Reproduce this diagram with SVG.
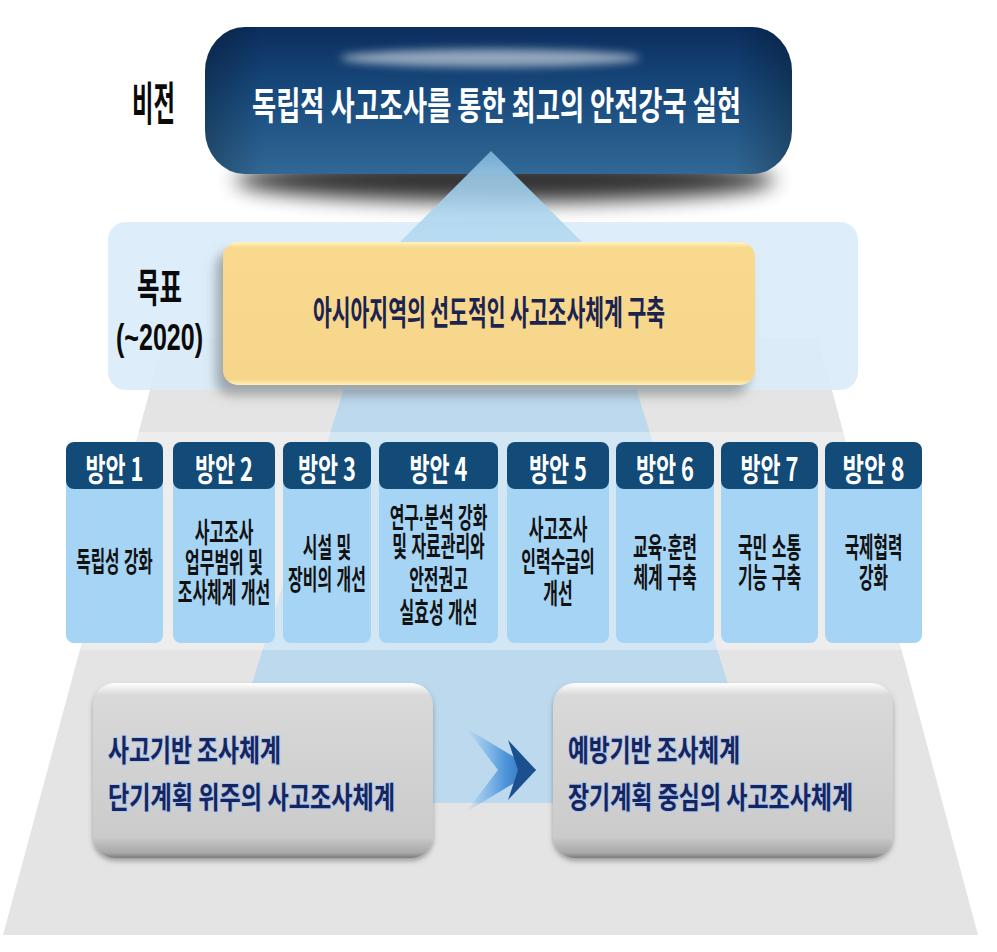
<svg xmlns="http://www.w3.org/2000/svg" width="997" height="952" viewBox="0 0 997 952">
<defs>
<style>
text{font-family:"Noto Sans CJK KR","Noto Sans",sans-serif;font-weight:700}
.lbl{fill:#0a0a0a;font-family:"Liberation Sans","Noto Sans CJK KR",sans-serif}
.hd{fill:#ffffff;font-size:32px}
.bd{fill:#111111;font-size:28px;font-family:"Liberation Sans","Noto Sans CJK KR",sans-serif;text-anchor:middle}
.hdr{fill:#124a78}
.body{fill:#a6d4f4}
.bt{fill:#18245e;font-size:30px;stroke:#a9c9ee;stroke-width:2.2px;paint-order:stroke}
</style>
<linearGradient id="pillG" x1="0" y1="0" x2="0" y2="1">
<stop offset="0" stop-color="#0b2e5e"/>
<stop offset="0.45" stop-color="#184a7d"/>
<stop offset="1" stop-color="#316894"/>
</linearGradient>
<linearGradient id="pillSide" x1="0" y1="0" x2="1" y2="0">
<stop offset="0" stop-color="#000" stop-opacity="0.25"/>
<stop offset="0.1" stop-color="#000" stop-opacity="0"/>
<stop offset="0.9" stop-color="#000" stop-opacity="0"/>
<stop offset="1" stop-color="#000" stop-opacity="0.25"/>
</linearGradient>
<linearGradient id="triG" x1="0" y1="0" x2="0" y2="1">
<stop offset="0" stop-color="#7fb2d8"/>
<stop offset="0.25" stop-color="#9ccbe9"/>
<stop offset="1" stop-color="#bfe0f4"/>
</linearGradient>
<linearGradient id="yelG" x1="0" y1="0" x2="0" y2="1">
<stop offset="0" stop-color="#fff3c4"/>
<stop offset="0.04" stop-color="#f8d98e"/>
<stop offset="0.96" stop-color="#f6d68a"/>
<stop offset="1" stop-color="#fff0b8"/>
</linearGradient>
<linearGradient id="boxG" x1="0" y1="0" x2="0" y2="1">
<stop offset="0" stop-color="#ffffff"/>
<stop offset="0.07" stop-color="#d9d9d9"/>
<stop offset="0.88" stop-color="#cbcbcb"/>
<stop offset="0.97" stop-color="#a8a8a8"/>
<stop offset="1" stop-color="#7c7c7c"/>
</linearGradient>
<linearGradient id="arrG" x1="0" y1="0" x2="1" y2="0">
<stop offset="0" stop-color="#5da8ea" stop-opacity="0"/>
<stop offset="0.55" stop-color="#3d8ad8" stop-opacity="0.85"/>
<stop offset="1" stop-color="#1d5fa8"/>
</linearGradient>
<filter id="blur10" x="-30%" y="-100%" width="160%" height="300%"><feGaussianBlur stdDeviation="10"/></filter>
<filter id="blur4" x="-30%" y="-200%" width="160%" height="500%"><feGaussianBlur stdDeviation="4"/></filter>
<filter id="ysh" x="-10%" y="-10%" width="120%" height="130%"><feDropShadow dx="-7" dy="10" stdDeviation="6" flood-color="#6a6a6a" flood-opacity="0.55"/></filter>
<filter id="bsh" x="-10%" y="-10%" width="120%" height="130%"><feDropShadow dx="0" dy="3" stdDeviation="2.5" flood-color="#555" flood-opacity="0.5"/></filter>
</defs>

<rect width="997" height="952" fill="#ffffff"/>

<g id="background">
<polygon points="164,338 818,338 978,935 3,935" fill="#e4e4e4"/>
<polygon points="345,385 635,385 765,803 215,803" fill="#bcd9ee"/>
<rect x="108" y="222" width="750" height="168" rx="18" fill="#d9ecfa" opacity="0.9"/>
<rect x="60" y="432" width="870" height="218" fill="#ffffff" opacity="0.35"/>
</g>

<g id="vision">
<ellipse cx="505" cy="180" rx="270" ry="22" fill="#000" opacity="0.8" filter="url(#blur10)"/>
<rect x="205" y="27" width="587" height="147" rx="40" ry="44" fill="url(#pillG)"/>
<rect x="205" y="27" width="587" height="147" rx="40" ry="44" fill="url(#pillSide)"/>
<ellipse cx="490" cy="58" rx="150" ry="9" fill="#ffffff" opacity="0.55" filter="url(#blur4)"/>
<polygon points="491,151 380,262 602,262" fill="url(#triG)" opacity="0.9"/>
<text x="252" y="119" font-size="38" fill="#ffffff" textLength="489" lengthAdjust="spacingAndGlyphs">독립적 사고조사를 통한 최고의 안전강국 실현</text>
<text class="lbl" x="132" y="120" font-size="46" textLength="43" lengthAdjust="spacingAndGlyphs">비전</text>
</g>

<g id="goal">
<rect x="223" y="242" width="532" height="143" rx="15" fill="url(#yelG)" filter="url(#ysh)"/>
<text x="313" y="325" font-size="34" fill="#1b2350" textLength="352" lengthAdjust="spacingAndGlyphs">아시아지역의 선도적인 사고조사체계 구축</text>
<text class="lbl" x="137" y="302" font-size="40" textLength="45" lengthAdjust="spacingAndGlyphs">목표</text>
<text class="lbl" x="116" y="350" font-size="36" textLength="87" lengthAdjust="spacingAndGlyphs">(~2020)</text>
</g>

<g id="plan1">
<rect class="body" x="66" y="470" width="97" height="173" rx="8"/>
<rect class="hdr" x="66" y="442" width="97" height="47" rx="8"/>
<text class="hd" x="114.5" y="481" text-anchor="middle" textLength="58" lengthAdjust="spacingAndGlyphs">방안 1</text>
<text class="bd" transform="translate(114.5 0) scale(0.56 1)"><tspan x="0" y="572">독립성 강화</tspan></text>
</g>
<g id="plan2">
<rect class="body" x="173" y="470" width="102" height="173" rx="8"/>
<rect class="hdr" x="173" y="442" width="102" height="47" rx="8"/>
<text class="hd" x="224" y="481" text-anchor="middle" textLength="58" lengthAdjust="spacingAndGlyphs">방안 2</text>
<text class="bd" transform="translate(224 0) scale(0.57 1)"><tspan x="0" y="543">사고조사</tspan><tspan x="0" y="573">업무범위 및</tspan><tspan x="0" y="603">조사체계 개선</tspan></text>
</g>
<g id="plan3">
<rect class="body" x="283" y="470" width="88" height="173" rx="8"/>
<rect class="hdr" x="283" y="442" width="88" height="47" rx="8"/>
<text class="hd" x="327" y="481" text-anchor="middle" textLength="58" lengthAdjust="spacingAndGlyphs">방안 3</text>
<text class="bd" transform="translate(327 0) scale(0.57 1)"><tspan x="0" y="558">시설 및</tspan><tspan x="0" y="590">장비의 개선</tspan></text>
</g>
<g id="plan4">
<rect class="body" x="379" y="470" width="119" height="173" rx="8"/>
<rect class="hdr" x="379" y="442" width="119" height="47" rx="8"/>
<text class="hd" x="438.5" y="481" text-anchor="middle" textLength="58" lengthAdjust="spacingAndGlyphs">방안 4</text>
<text class="bd" transform="translate(438.5 0) scale(0.57 1)"><tspan x="0" y="528">연구·분석 강화</tspan><tspan x="0" y="557">및 자료관리와</tspan><tspan x="0" y="590">안전권고</tspan><tspan x="0" y="623">실효성 개선</tspan></text>
</g>
<g id="plan5">
<rect class="body" x="507" y="470" width="102" height="173" rx="8"/>
<rect class="hdr" x="507" y="442" width="102" height="47" rx="8"/>
<text class="hd" x="558" y="481" text-anchor="middle" textLength="58" lengthAdjust="spacingAndGlyphs">방안 5</text>
<text class="bd" transform="translate(558 0) scale(0.57 1)"><tspan x="0" y="540">사고조사</tspan><tspan x="0" y="572">인력수급의</tspan><tspan x="0" y="604">개선</tspan></text>
</g>
<g id="plan6">
<rect class="body" x="616" y="470" width="98" height="173" rx="8"/>
<rect class="hdr" x="616" y="442" width="98" height="47" rx="8"/>
<text class="hd" x="665" y="481" text-anchor="middle" textLength="58" lengthAdjust="spacingAndGlyphs">방안 6</text>
<text class="bd" transform="translate(665 0) scale(0.57 1)"><tspan x="0" y="558">교육·훈련</tspan><tspan x="0" y="588">체계 구축</tspan></text>
</g>
<g id="plan7">
<rect class="body" x="721" y="470" width="97" height="173" rx="8"/>
<rect class="hdr" x="721" y="442" width="97" height="47" rx="8"/>
<text class="hd" x="769.5" y="481" text-anchor="middle" textLength="58" lengthAdjust="spacingAndGlyphs">방안 7</text>
<text class="bd" transform="translate(769.5 0) scale(0.57 1)"><tspan x="0" y="558">국민 소통</tspan><tspan x="0" y="588">기능 구축</tspan></text>
</g>
<g id="plan8">
<rect class="body" x="825" y="470" width="97" height="173" rx="8"/>
<rect class="hdr" x="825" y="442" width="97" height="47" rx="8"/>
<text class="hd" x="873.5" y="481" text-anchor="middle" textLength="62" lengthAdjust="spacingAndGlyphs">방안 8</text>
<text class="bd" transform="translate(873.5 0) scale(0.56 1)"><tspan x="0" y="558">국제협력</tspan><tspan x="0" y="588">강화</tspan></text>
</g>

<g id="current">
<rect x="93" y="683" width="340" height="175" rx="22" fill="url(#boxG)" filter="url(#bsh)"/>
<text class="bt" x="108" y="761" textLength="173" lengthAdjust="spacingAndGlyphs">사고기반 조사체계</text>
<text class="bt" x="108" y="808" textLength="287" lengthAdjust="spacingAndGlyphs">단기계획 위주의 사고조사체계</text>
</g>

<g id="future">
<rect x="553" y="683" width="340" height="175" rx="22" fill="url(#boxG)" filter="url(#bsh)"/>
<text class="bt" x="568" y="761" textLength="172" lengthAdjust="spacingAndGlyphs">예방기반 조사체계</text>
<text class="bt" x="568" y="808" textLength="285" lengthAdjust="spacingAndGlyphs">장기계획 중심의 사고조사체계</text>
</g>

<g id="connectors">
<polygon points="466,728 536,770 466,812 498,770" fill="url(#arrG)"/>
<polygon points="508,740 536,770 508,800 518,770" fill="#1b4f90"/>
</g>
</svg>
